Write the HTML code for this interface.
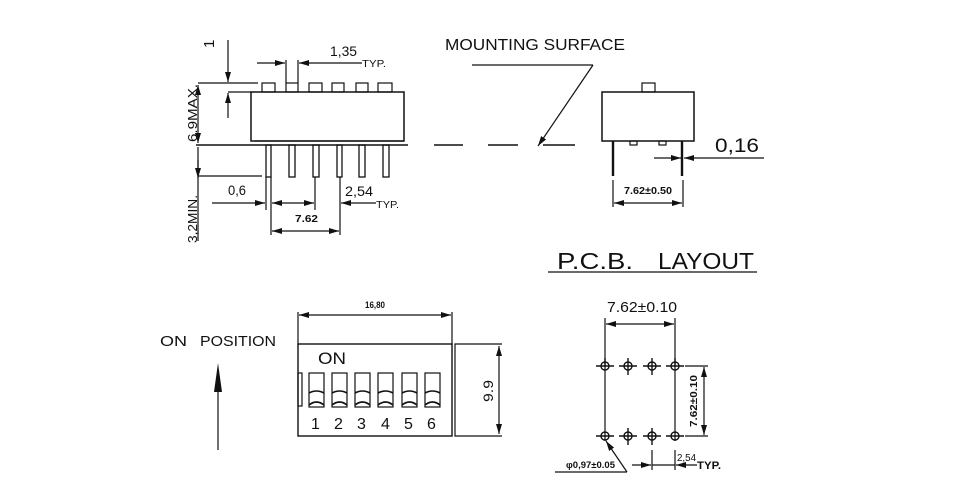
<!DOCTYPE html>
<html><head><meta charset="utf-8"><style>
html,body{margin:0;padding:0;background:#fff;width:960px;height:488px;overflow:hidden}
svg{display:block}
text{font-family:"Liberation Sans","DejaVu Sans",sans-serif;fill:#111}
</style></head><body>
<svg width="960" height="488" viewBox="0 0 960 488" xmlns="http://www.w3.org/2000/svg">
<defs>
<marker id="a" viewBox="0 0 10 6" refX="10" refY="3" markerWidth="10" markerHeight="6" orient="auto-start-reverse" markerUnits="userSpaceOnUse"><path d="M0,0L10,3L0,6z" fill="#111"/></marker>
</defs>
<g stroke="#111" stroke-width="1.2" fill="none">
<rect x="251" y="92" width="153" height="49" stroke-width="1.5"/>
<rect x="262" y="83" width="13" height="9"/><rect x="286" y="83" width="12" height="9"/><rect x="309" y="83" width="13" height="9"/><rect x="332" y="83" width="12" height="9"/><rect x="356" y="83" width="12" height="9"/><rect x="378" y="83" width="14" height="9"/>
<line x1="196" y1="145" x2="408" y2="145" stroke-width="1.5"/>
<line x1="255" y1="141" x2="404" y2="141"/>
<g stroke-width="1.3">
<rect x="266" y="145" width="5" height="32"/><rect x="289" y="145" width="6" height="32"/><rect x="313" y="145" width="6" height="32"/><rect x="337" y="145" width="5" height="32"/><rect x="359" y="145" width="6" height="32"/><rect x="383" y="145" width="6" height="32"/>
</g>
<line x1="198" y1="83" x2="258" y2="83"/>
<line x1="198" y1="85" x2="198" y2="143" marker-start="url(#a)" marker-end="url(#a)"/>
<line x1="198" y1="147" x2="198" y2="241"/>
<line x1="198" y1="176" x2="262" y2="176"/>
<line x1="198" y1="160" x2="198" y2="178" marker-end="url(#a)"/>
<line x1="228" y1="40" x2="228" y2="82" marker-end="url(#a)"/>
<line x1="228" y1="118" x2="228" y2="93" marker-end="url(#a)"/>
<line x1="228" y1="92" x2="251" y2="92"/>
<line x1="286" y1="60" x2="286" y2="83"/><line x1="298" y1="60" x2="298" y2="83"/>
<line x1="257" y1="63" x2="285" y2="63" marker-end="url(#a)"/>
<line x1="362" y1="63" x2="299" y2="63" marker-end="url(#a)"/>
<line x1="266" y1="177" x2="266" y2="210"/><line x1="271" y1="177" x2="271" y2="235"/>
<line x1="315" y1="177" x2="315" y2="210"/><line x1="340" y1="177" x2="340" y2="235"/>
<line x1="212" y1="203" x2="265" y2="203" marker-end="url(#a)"/>
<line x1="272" y1="203" x2="314" y2="203" marker-start="url(#a)" marker-end="url(#a)"/>
<line x1="376" y1="203" x2="341" y2="203" marker-end="url(#a)"/>
<line x1="272" y1="231" x2="339" y2="231" marker-start="url(#a)" marker-end="url(#a)"/>
<line x1="434" y1="145" x2="463" y2="145" stroke-width="1.5"/>
<line x1="488" y1="145" x2="518" y2="145" stroke-width="1.5"/>
<line x1="543" y1="145" x2="575" y2="145" stroke-width="1.5"/>
<polyline points="472,65 593,65"/>
<line x1="593" y1="65" x2="538" y2="146" marker-end="url(#a)"/>
<rect x="602" y="92" width="92" height="49" stroke-width="1.5"/>
<rect x="642" y="83" width="13" height="9"/>
<rect x="630" y="141" width="7" height="4"/><rect x="659" y="141" width="7" height="4"/>
<line x1="613" y1="141" x2="613" y2="176" stroke-width="2.4"/>
<line x1="682" y1="141" x2="682" y2="176" stroke-width="2.4"/>
<line x1="654" y1="158" x2="681" y2="158" marker-end="url(#a)"/>
<line x1="764" y1="158" x2="684" y2="158" marker-end="url(#a)"/>
<line x1="613" y1="180" x2="613" y2="207"/><line x1="683" y1="180" x2="683" y2="207"/>
<line x1="614" y1="203" x2="682" y2="203" marker-start="url(#a)" marker-end="url(#a)"/>
<line x1="298" y1="312" x2="298" y2="345"/><line x1="452" y1="312" x2="452" y2="345"/>
<line x1="299" y1="315" x2="451" y2="315" marker-start="url(#a)" marker-end="url(#a)"/>
<rect x="298" y="344" width="154" height="92" stroke-width="1.4"/>
<polyline points="502,344 455,344 455,436 502,436"/>
<line x1="499" y1="346" x2="499" y2="434" marker-start="url(#a)" marker-end="url(#a)"/>
<rect x="298" y="373" width="4" height="33"/>
<g>
<rect x="309" y="373" width="15" height="34"/><path d="M309,393 Q316.5,389 324,393 M309,405 Q316.5,399 324,405" stroke-width="1.6"/>
<rect x="332" y="373" width="15" height="34"/><path d="M332,393 Q339.5,389 347,393 M332,405 Q339.5,399 347,405" stroke-width="1.6"/>
<rect x="355" y="373" width="15" height="34"/><path d="M355,393 Q362.5,389 370,393 M355,405 Q362.5,399 370,405" stroke-width="1.6"/>
<rect x="378" y="373" width="15" height="34"/><path d="M378,393 Q385.5,389 393,393 M378,405 Q385.5,399 393,405" stroke-width="1.6"/>
<rect x="402" y="373" width="15" height="34"/><path d="M402,393 Q409.5,389 417,393 M402,405 Q409.5,399 417,405" stroke-width="1.6"/>
<rect x="425" y="373" width="15" height="34"/><path d="M425,393 Q432.5,389 440,393 M425,405 Q432.5,399 440,405" stroke-width="1.6"/>
</g>
<line x1="218" y1="450" x2="218" y2="390"/>
<line x1="548" y1="272" x2="757" y2="272"/>
<line x1="605" y1="318" x2="605" y2="441"/><line x1="675" y1="318" x2="675" y2="441"/>
<line x1="606" y1="324" x2="674" y2="324" marker-start="url(#a)" marker-end="url(#a)"/>
<g stroke-width="1.4">
<circle cx="605" cy="366" r="4"/><circle cx="628" cy="366" r="4"/><circle cx="652" cy="366" r="4"/><circle cx="675" cy="366" r="4"/>
<circle cx="605" cy="436" r="4"/><circle cx="628" cy="436" r="4"/><circle cx="652" cy="436" r="4"/><circle cx="675" cy="436" r="4"/>
<path d="M596,366h18M619,366h18M643,366h18M666,366h18M596,436h18M619,436h18M643,436h18M666,436h18"/>
<path d="M628,358v17M652,358v17M628,428v17M652,428v17M605,358v8M675,358v8"/>
</g>
<line x1="685" y1="366" x2="708" y2="366"/><line x1="685" y1="436" x2="708" y2="436"/>
<line x1="704" y1="367" x2="704" y2="435" marker-start="url(#a)" marker-end="url(#a)"/>
<polyline points="555,472 627,472"/>
<line x1="627" y1="472" x2="606" y2="441" marker-end="url(#a)"/>
<line x1="652" y1="450" x2="652" y2="470"/><line x1="675" y1="450" x2="675" y2="470"/>
<line x1="632" y1="465" x2="651" y2="465" marker-end="url(#a)"/>
<line x1="652" y1="465" x2="675" y2="465"/>
<line x1="697" y1="465" x2="676" y2="465" marker-end="url(#a)"/>
</g>
<path d="M214,392L218,363L222,392z" fill="#111"/>

<text x="330" y="56" font-size="14" textLength="27" lengthAdjust="spacingAndGlyphs">1,35</text>
<text x="362" y="67" font-size="10" textLength="24" lengthAdjust="spacingAndGlyphs">TYP.</text>
<text transform="translate(214,48) rotate(-90)" font-size="15">1</text>
<text transform="translate(197,142) rotate(-90)" font-size="13" textLength="58" lengthAdjust="spacingAndGlyphs">6.9MAX.</text>
<text transform="translate(197,243) rotate(-90)" font-size="13" textLength="48" lengthAdjust="spacingAndGlyphs">3,2MIN.</text>
<text x="228" y="195" font-size="14" textLength="18" lengthAdjust="spacingAndGlyphs">0,6</text>
<text x="345" y="196" font-size="14" textLength="28" lengthAdjust="spacingAndGlyphs">2,54</text>
<text x="376" y="208" font-size="10" textLength="23" lengthAdjust="spacingAndGlyphs">TYP.</text>
<text x="295" y="222" font-size="10" font-weight="bold" textLength="23" lengthAdjust="spacingAndGlyphs">7.62</text>
<text x="445" y="50" font-size="16" textLength="180" lengthAdjust="spacingAndGlyphs">MOUNTING SURFACE</text>
<text x="715" y="152" font-size="19" textLength="44" lengthAdjust="spacingAndGlyphs">0,16</text>
<text x="624" y="194" font-size="10" font-weight="bold" textLength="48" lengthAdjust="spacingAndGlyphs">7.62±0.50</text>
<text x="557" y="269" font-size="23" textLength="76" lengthAdjust="spacingAndGlyphs">P.C.B.</text>
<text x="658" y="269" font-size="23" textLength="96" lengthAdjust="spacingAndGlyphs">LAYOUT</text>
<text x="160" y="346" font-size="15" textLength="27" lengthAdjust="spacingAndGlyphs">ON</text>
<text x="200" y="346" font-size="15" textLength="76" lengthAdjust="spacingAndGlyphs">POSITION</text>
<text x="365" y="308" font-size="9" font-weight="bold" textLength="20" lengthAdjust="spacingAndGlyphs">16,80</text>
<text x="318" y="364" font-size="17" textLength="28" lengthAdjust="spacingAndGlyphs">ON</text>
<text x="311" y="429" font-size="16">1</text><text x="334" y="429" font-size="16">2</text><text x="357" y="429" font-size="16">3</text><text x="381" y="429" font-size="16">4</text><text x="404" y="429" font-size="16">5</text><text x="427" y="429" font-size="16">6</text>
<text transform="translate(493,402) rotate(-90)" font-size="14" textLength="22" lengthAdjust="spacingAndGlyphs">9.9</text>
<text x="607" y="312" font-size="15" textLength="70" lengthAdjust="spacingAndGlyphs">7.62±0.10</text>
<text transform="translate(697,427) rotate(-90)" font-size="10" font-weight="bold" textLength="52" lengthAdjust="spacingAndGlyphs">7.62±0.10</text>
<text x="566" y="468" font-size="9" font-weight="bold" textLength="49" lengthAdjust="spacingAndGlyphs">φ0,97±0.05</text>
<text x="677" y="461" font-size="10" textLength="19" lengthAdjust="spacingAndGlyphs">2,54</text>
<text x="697" y="469" font-size="11" font-weight="bold" textLength="24" lengthAdjust="spacingAndGlyphs">TYP.</text>
</svg>
</body></html>
